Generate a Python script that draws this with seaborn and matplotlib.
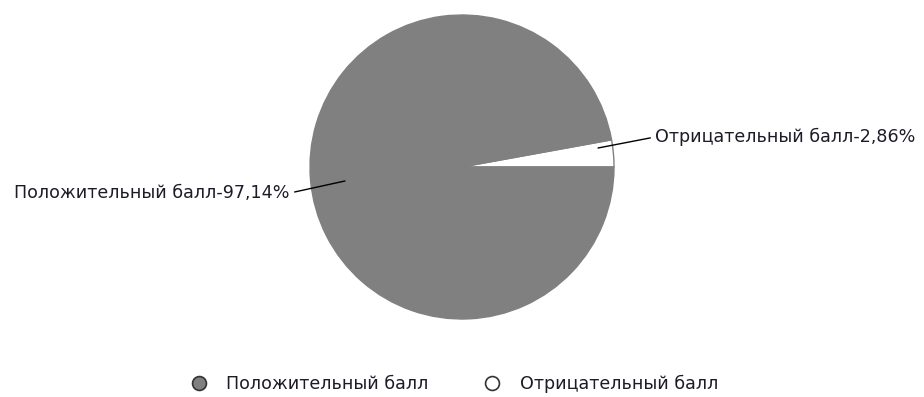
import numpy as np
import matplotlib.pyplot as plt
import seaborn as sns
from matplotlib.lines import Line2D

# Data
labels = ["Отрицательный балл", "Положительный балл"]
shares = [2.86, 97.14]
colors = ["#ffffff", "#808080"]
legend_order = [1, 0]

sns.set_theme(style="white")
plt.rcParams["font.family"] = ["DejaVu Sans"]

fig = plt.figure(figsize=(9.24, 3.97), dpi=100)
W, H = 924, 397
cx, cy, r = 462, 167, 152
ax = fig.add_axes([(cx - r) / W, (H - cy - r) / H, 2 * r / W, 2 * r / H])

wedges, _ = ax.pie(shares, colors=colors, startangle=0, counterclock=True,
                   wedgeprops=dict(edgecolor="#808080", linewidth=1))
ax.set_aspect("equal")
ax.set_xlim(-1, 1)
ax.set_ylim(-1, 1)

def fmt(v):
    return f"{v:.2f}%".replace(".", ",")

# label anchor points on the pie (radius units) and text positions (pixels)
anchors = [(0.895, 0.125), (-0.77, -0.092)]
text_pos = [(655, H - 137), (290, H - 193)]
fs = 12.6
for i, (lab, v) in enumerate(zip(labels, shares)):
    ha = "left" if i == 0 else "right"
    ax.annotate(f"{lab}-{fmt(v)}", xy=anchors[i], xycoords="data",
                xytext=text_pos[i], textcoords="figure pixels",
                ha=ha, va="center", fontsize=fs, color="#1c1c28",
                arrowprops=dict(arrowstyle="-", color="black", lw=1,
                                shrinkA=1, shrinkB=0,
                                relpos=(0, 0.5) if i == 0 else (1, 0.5)))

handles = [Line2D([], [], marker="o", linestyle="none", markersize=10,
                  markerfacecolor=colors[j], markeredgecolor="#333333",
                  markeredgewidth=1.2) for j in legend_order]
fig.legend(handles, [labels[j] for j in legend_order], loc="center",
           bbox_to_anchor=(454 / W, 13 / H), ncol=2, frameon=False,
           fontsize=fs, handletextpad=1.1, columnspacing=3.1,
           handlelength=1.0, labelcolor="#1c1c28")

fig.savefig("out.png", dpi=100, facecolor="white")
